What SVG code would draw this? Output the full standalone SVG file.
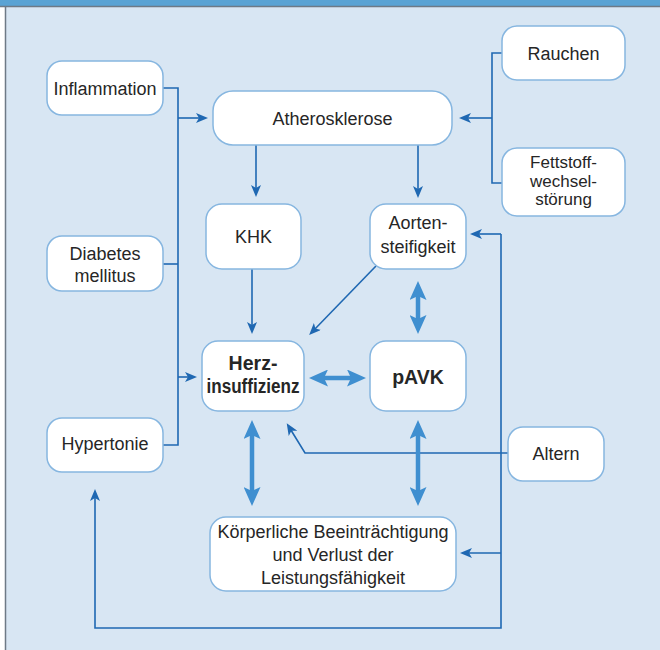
<svg xmlns="http://www.w3.org/2000/svg" width="660" height="650" viewBox="0 0 660 650">
<style>
.node rect{fill:#ffffff;stroke:#86b6e0;stroke-width:1.5}
text{font-family:"Liberation Sans",Arial,sans-serif;font-size:18px;fill:#262626;text-anchor:middle}
text.b{font-weight:bold;font-size:19.5px}
text.s{font-size:17px}
.thin{fill:none;stroke:#1f68b2;stroke-width:1.6}
.thick{fill:none;stroke:#3f8fd0;stroke-width:4.5}
</style>
<defs>
<marker id="ah" markerUnits="userSpaceOnUse" markerWidth="12" markerHeight="10" viewBox="0 0 12 10" refX="4" refY="5" orient="auto">
<path d="M0,0 L12,5 L0,10 L3,5 z" fill="#1f68b2"/>
</marker>
<marker id="th" markerUnits="userSpaceOnUse" markerWidth="19" markerHeight="17" viewBox="0 0 19 17" refX="7" refY="8.5" orient="auto-start-reverse">
<path d="M0,0 L19,8.5 L0,17 L4,8.5 z" fill="#3f8fd0"/>
</marker>
</defs>
<rect x="0" y="0" width="660" height="650" fill="#ffffff"/>
<rect x="5" y="0" width="655" height="650" fill="#d8e6f3"/>
<rect x="0" y="0" width="660" height="6" fill="#5aa3d4"/>
<line x1="0" y1="6.5" x2="660" y2="6.5" stroke="#6e7a86" stroke-width="1.5"/>
<line x1="5.5" y1="6" x2="5.5" y2="650" stroke="#6e7a86" stroke-width="1.5"/>

<g id="connectors">
<polyline class="thin" points="163,88 178,88 178,445 163,445"/>
<line class="thin" x1="163" y1="264" x2="178" y2="264"/>
<line class="thin" x1="178" y1="118" x2="200" y2="118" marker-end="url(#ah)"/>
<line class="thin" x1="178" y1="377" x2="189" y2="377" marker-end="url(#ah)"/>
<polyline class="thin" points="502,53 492,53 492,183 502,183"/>
<line class="thin" x1="492" y1="118" x2="467" y2="118" marker-end="url(#ah)"/>
<line class="thin" x1="256" y1="145" x2="256" y2="189" marker-end="url(#ah)"/>
<line class="thin" x1="418" y1="145" x2="418" y2="190" marker-end="url(#ah)"/>
<line class="thin" x1="252" y1="269" x2="252" y2="326" marker-end="url(#ah)"/>
<line class="thin" x1="376" y1="266" x2="314.7" y2="329.3" marker-end="url(#ah)"/>
<line class="thin" x1="501" y1="234" x2="478" y2="234" marker-end="url(#ah)"/>
<polyline class="thin" points="501,234 501,628 95,628 95,497" marker-end="url(#ah)"/>
<line class="thin" x1="501" y1="553" x2="468" y2="553" marker-end="url(#ah)"/>
<polyline class="thin" points="508,453 305,453 290.9,430" marker-end="url(#ah)"/>
<line class="thick" x1="418" y1="293" x2="418" y2="322" marker-start="url(#th)" marker-end="url(#th)"/>
<line class="thick" x1="321" y1="378" x2="354" y2="378" marker-start="url(#th)" marker-end="url(#th)"/>
<line class="thick" x1="252" y1="432" x2="252" y2="494" marker-start="url(#th)" marker-end="url(#th)"/>
<line class="thick" x1="418" y1="432" x2="418" y2="494" marker-start="url(#th)" marker-end="url(#th)"/>
</g>

<g id="inflammation" class="node"><rect x="47" y="61" width="116" height="54" rx="15"/><text x="105" y="95">Inflammation</text></g>
<g id="atherosklerose" class="node"><rect x="213" y="91" width="239" height="54" rx="20"/><text x="332.5" y="124.5">Atherosklerose</text></g>
<g id="rauchen" class="node"><rect x="502" y="26" width="123" height="54" rx="15"/><text x="563.5" y="60">Rauchen</text></g>
<g id="fettstoff" class="node"><rect x="502" y="148" width="123" height="68" rx="15"/><text class="s" x="563.5" y="168">Fettstoff-</text><text class="s" x="563.5" y="187">wechsel-</text><text class="s" x="563.5" y="205">störung</text></g>
<g id="diabetes" class="node"><rect x="47" y="236" width="116" height="55" rx="15"/><text x="105" y="260">Diabetes</text><text x="105" y="282">mellitus</text></g>
<g id="khk" class="node"><rect x="206" y="204" width="95" height="65" rx="16"/><text x="253.5" y="243">KHK</text></g>
<g id="aortensteifigkeit" class="node"><rect x="370" y="204" width="96" height="65" rx="16"/><text x="418" y="229">Aorten-</text><text x="418" y="253">steifigkeit</text></g>
<g id="herzinsuffizienz" class="node"><rect x="202" y="341" width="102" height="70" rx="16"/><text class="b" x="253" y="370">Herz-</text><text class="b" x="253" y="393" textLength="93" lengthAdjust="spacingAndGlyphs">insuffizienz</text></g>
<g id="pavk" class="node"><rect x="370" y="341" width="96" height="70" rx="16"/><text class="b" x="418" y="384">pAVK</text></g>
<g id="hypertonie" class="node"><rect x="47" y="418" width="116" height="54" rx="15"/><text x="105" y="450">Hypertonie</text></g>
<g id="altern" class="node"><rect x="508" y="427" width="96" height="54" rx="15"/><text x="556" y="460">Altern</text></g>
<g id="koerperliche" class="node"><rect x="210" y="517" width="246" height="74" rx="16"/><text x="333" y="538">Körperliche Beeinträchtigung</text><text x="333" y="561">und Verlust der</text><text x="333" y="584">Leistungsfähigkeit</text></g>
</svg>
